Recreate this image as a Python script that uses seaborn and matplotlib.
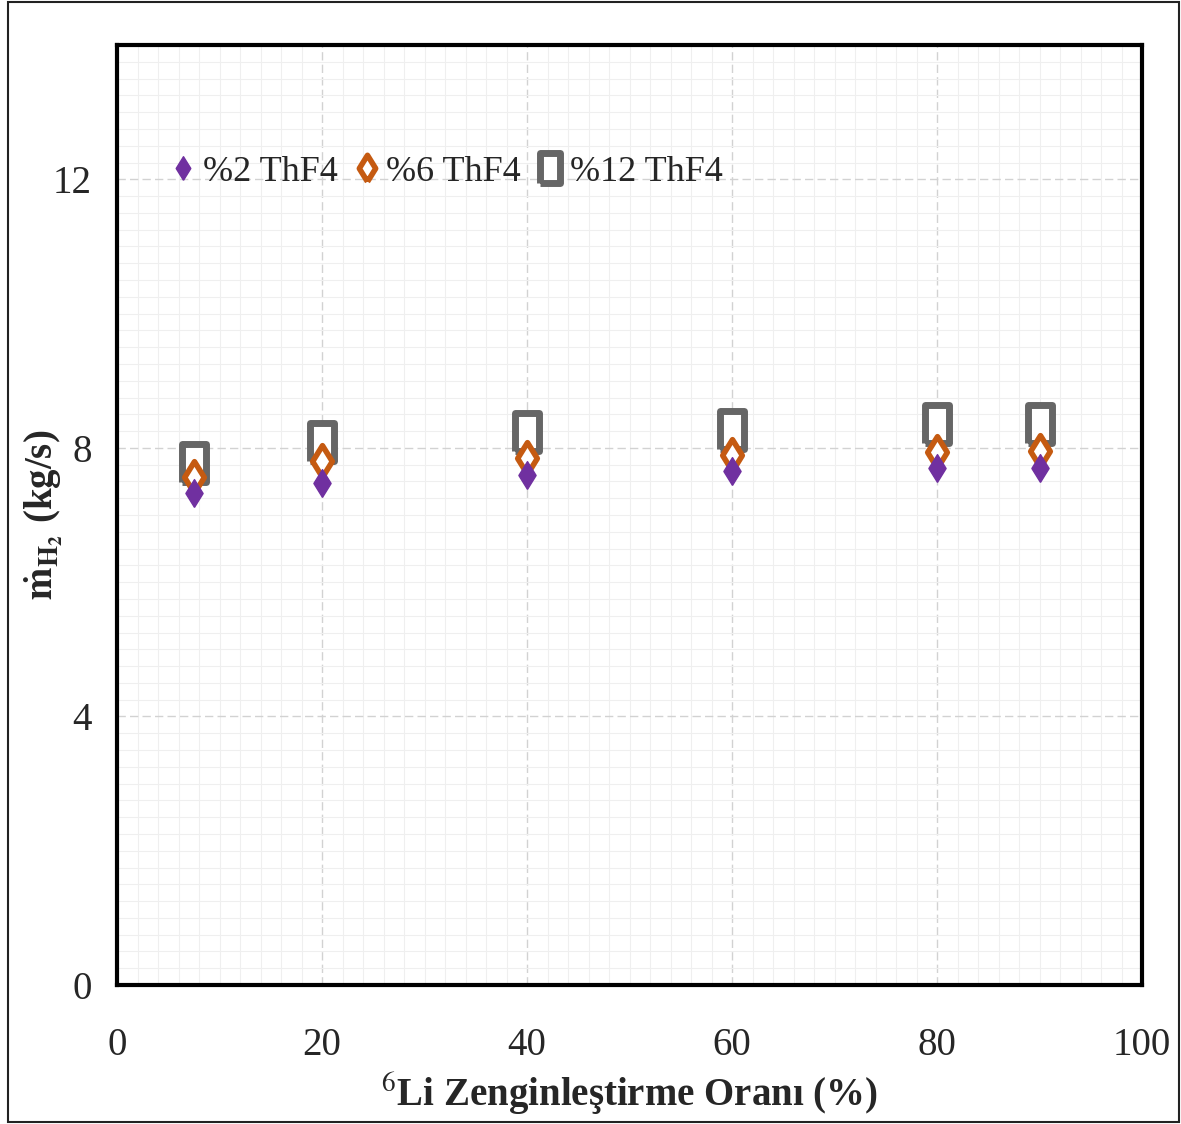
import matplotlib
matplotlib.use("Agg")
import matplotlib.pyplot as plt
import seaborn as sns
import pandas as pd
import numpy as np
from matplotlib.ticker import MultipleLocator
from matplotlib.patches import Rectangle
from matplotlib.lines import Line2D

# Li-6 enrichment ratio (%)
enrichment = [7.5, 20, 40, 60, 80, 90]
# Hydrogen mass flow (kg/s) for each ThF4 fraction
thf4_2 = [7.33, 7.48, 7.59, 7.65, 7.70, 7.70]
thf4_6 = [7.56, 7.81, 7.85, 7.90, 7.94, 7.96]
thf4_12 = [7.78, 8.08, 8.24, 8.27, 8.35, 8.36]
series_labels = ["%2 ThF4", "%6 ThF4", "%12 ThF4"]

df = pd.DataFrame({
    "x": enrichment * 3,
    "y": thf4_2 + thf4_6 + thf4_12,
    "series": np.repeat(series_labels, len(enrichment)),
})

sns.set_style("white")
plt.rcParams["font.family"] = ["Liberation Serif", "DejaVu Serif"]
plt.rcParams["mathtext.fontset"] = "stix"

fig = plt.figure(figsize=(11.81, 11.24), dpi=100)
ax = fig.add_axes([117 / 1181, 1 - 985 / 1124, (1142 - 117) / 1181, (985 - 45) / 1124])

# tall, narrow marker shapes
diamond = [(0, -1), (0.62, 0), (0, 1), (-0.62, 0), (0, -1)]
square = [(-0.64, -1), (0.64, -1), (0.64, 1), (-0.64, 1), (-0.64, -1)]

styles = {
    "%2 ThF4": dict(marker=diamond, s=400, face="#7030A0", edge="#7030A0", lw=1),
    "%6 ThF4": dict(marker=diamond, s=520, face="white", edge="#C55A11", lw=4),
    "%12 ThF4": dict(marker=square, s=760, face="white", edge="#666666", lw=5),
}
for name in reversed(series_labels):
    sub = df[df["series"] == name]
    st = styles[name]
    sns.scatterplot(data=sub, x="x", y="y", ax=ax, marker=st["marker"], s=st["s"],
                    color=st["face"], edgecolor=st["edge"],
                    linewidth=st["lw"], zorder=3, legend=False)
    ax.collections[-1].set_facecolor(st["face"])
    ax.collections[-1].set_edgecolor(st["edge"])

ax.set_xlim(0, 100)
ax.set_ylim(0, 14)
ax.xaxis.set_major_locator(MultipleLocator(20))
ax.yaxis.set_major_locator(MultipleLocator(4))
ax.xaxis.set_minor_locator(MultipleLocator(2))
ax.yaxis.set_minor_locator(MultipleLocator(0.25))
ax.grid(True, which="major", color="#d2d2d2", linestyle=(0, (6, 3)), linewidth=1.0)
ax.grid(True, which="minor", color="#efefef", linestyle="-", linewidth=0.8)
ax.set_axisbelow(True)
ax.tick_params(axis="x", which="both", length=0, labelsize=28, pad=30)
ax.tick_params(axis="y", which="both", length=0, labelsize=28, pad=18)
for sp in ax.spines.values():
    sp.set_visible(True)
    sp.set_color("black")
    sp.set_linewidth(3)

ax.set_xlabel(r"$^{6}$Li Zenginleştirme Oranı (%)", fontsize=28, fontweight="bold")
ax.set_ylabel(r"$\mathbf{\dot{m}_{H_2}}$ (kg/s)", fontsize=28, fontweight="bold")
ax.xaxis.label.set_va("center")
ax.yaxis.label.set_va("center")
ax.xaxis.set_label_coords(0.5, (985 - 1094) / 940)
ax.yaxis.set_label_coords((44 - 117) / 1025, 0.5)

handles = [
    Line2D([], [], linestyle="none", marker=diamond, markersize=17, markerfacecolor="#7030A0",
           markeredgecolor="#7030A0"),
    Line2D([], [], linestyle="none", marker=diamond, markersize=19, markerfacecolor="white",
           markeredgecolor="#C55A11", markeredgewidth=4),
    Line2D([], [], linestyle="none", marker=square, markersize=22, markerfacecolor="white",
           markeredgecolor="#666666", markeredgewidth=5),
]
ax.legend(handles, series_labels, loc="upper left", bbox_to_anchor=(0.015, 0.917), ncol=3,
          frameon=False, fontsize=26, handletextpad=0.05, columnspacing=0.3, handlelength=1.0)

fig.patches.append(Rectangle((8 / 1181, 2 / 1124), 1 - 10 / 1181, 1 - 4 / 1124,
                             transform=fig.transFigure, fill=False, edgecolor="#222222",
                             linewidth=1.5))

fig.savefig("out.png", dpi=100)
